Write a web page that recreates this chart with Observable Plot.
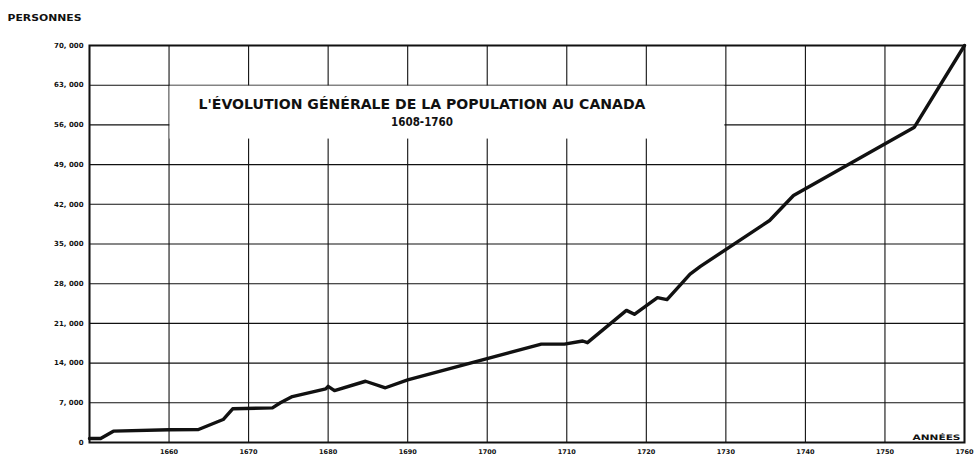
<!DOCTYPE html>
<html><head><meta charset="utf-8">
<script src="https://cdn.jsdelivr.net/npm/d3@7"></script>
<script src="https://cdn.jsdelivr.net/npm/@observablehq/plot@0.6"></script>
<style>html,body{margin:0;padding:0;background:#fff}svg{display:block}</style>
</head><body><div id="chart"></div>
<script>
// Data
const years = [1650, 1651.4, 1653, 1660, 1663.7, 1666.8, 1668, 1673, 1674, 1675.5, 1679.7, 1680, 1680.8, 1684.7, 1687.2, 1690, 1706.8, 1709.7, 1712, 1712.6, 1717.5, 1718.5, 1721.4, 1722.6, 1725.5, 1726.8, 1735.5, 1738.5, 1753.7, 1760];
const population = [700, 700, 2000, 2250, 2300, 4050, 5950, 6100, 7000, 8100, 9450, 9900, 9150, 10800, 9650, 11050, 17350, 17350, 17900, 17600, 23300, 22600, 25550, 25200, 29700, 31050, 39150, 43550, 55600, 70000];

const yTicks = [0, 7000, 14000, 21000, 28000, 35000, 42000, 49000, 56000, 63000, 70000];
const yTickLabels = ["0", "7, 000", "14, 000", "21, 000", "28, 000", "35, 000", "42, 000", "49, 000", "56, 000", "63, 000", "70, 000"];
const xGridYears = [1650, 1660, 1670, 1680, 1690, 1700, 1710, 1720, 1730, 1740, 1750, 1760];
const xTickYears = [1660, 1670, 1680, 1690, 1700, 1710, 1720, 1730, 1740, 1750, 1760];
const xTickLabels = ["1660", "1670", "1680", "1690", "1700", "1710", "1720", "1730", "1740", "1750", "1760"];

const titleLines = ["L'ÉVOLUTION GÉNÉRALE DE LA POPULATION AU CANADA", "1608-1760"];
const titleYears = [1691.8, 1691.8];
const titleValues = [59650, 56500];
const boxYears = [1660, 1730];
const boxValues = [53500, 63000];
const yAxisName = "PERSONNES";
const xAxisName = "ANNÉES";

const data = years.map((y, i) => ({year: y, pop: population[i]}));
const ink = "#111";

const chart = Plot.plot({
  width: 976,
  height: 456,
  marginLeft: 89,
  marginRight: 12,
  marginTop: 45,
  marginBottom: 14,
  x: {domain: [1650, 1760]},
  y: {domain: [0, 70000]},
  style: {fontFamily: "DejaVu Sans", fontSize: "7px", fontWeight: "bold", color: ink, background: "#fff"},
  marks: [
    Plot.ruleY(yTicks, {stroke: ink, strokeWidth: 1.1}),
    Plot.ruleX(xGridYears, {stroke: ink, strokeWidth: 1.1}),
    Plot.rect([0], {x1: () => boxYears[0], x2: () => boxYears[1], y1: () => boxValues[0], y2: () => boxValues[1], fill: "#fff", insetLeft: 1, insetRight: 1, insetTop: 1}),
    Plot.line(data, {x: "year", y: "pop", stroke: ink, strokeWidth: 3.4, strokeLinejoin: "round", strokeLinecap: "round"}),
    Plot.frame({stroke: ink, strokeWidth: 2}),
    Plot.axisY(yTicks, {tickSize: 0, tickPadding: 6, label: null, tickFormat: (d, i) => yTickLabels[yTicks.indexOf(d)], fontSize: 7, fontWeight: "bold"}),
    Plot.axisX(xTickYears, {tickSize: 0, tickPadding: 7, label: null, tickFormat: d => xTickLabels[xTickYears.indexOf(d)], fontSize: 6.5, fontWeight: "bold"}),
    Plot.text(titleLines, {x: (d, i) => titleYears[i], y: (d, i) => titleValues[i], text: d => d, fontSize: (d, i) => i === 0 ? 13.5 : 12, fontWeight: (d, i) => i === 0 ? "bold" : "bold", fill: ink}),
    Plot.text([xAxisName], {text: d => d, frameAnchor: "bottom-right", dx: -4, dy: -3, textAnchor: "end", fontSize: 7.5, fontWeight: "900", fill: ink}),
    Plot.text([yAxisName], {text: d => d, frameAnchor: "top-left", dx: -82, dy: -30, textAnchor: "start", fontSize: 8, fontWeight: "900", fill: ink})
  ]
});
document.getElementById("chart").appendChild(chart);

// fit title text widths to the reference
chart.querySelectorAll("text").forEach(t => {
  if (t.textContent === titleLines[0]) { t.setAttribute("textLength", 447); t.setAttribute("lengthAdjust", "spacingAndGlyphs"); }
  if (t.textContent === titleLines[1]) { t.setAttribute("textLength", 62); t.setAttribute("lengthAdjust", "spacingAndGlyphs"); }
  if (t.textContent === yAxisName) { t.setAttribute("textLength", 74); t.setAttribute("lengthAdjust", "spacingAndGlyphs"); }
  if (t.textContent === xAxisName) { t.setAttribute("textLength", 48); t.setAttribute("lengthAdjust", "spacingAndGlyphs"); }
});
</script>
</body></html>
